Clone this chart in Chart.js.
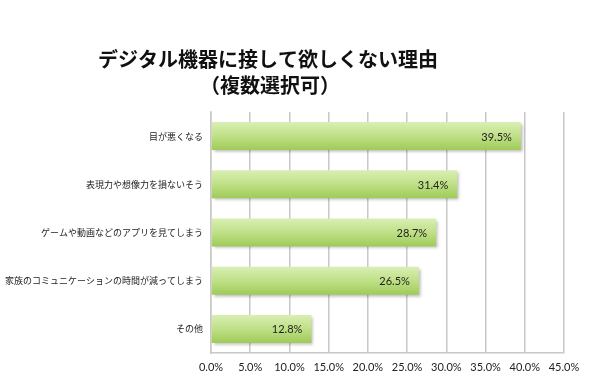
<!DOCTYPE html>
<html>
<head>
<meta charset="utf-8">
<script src="https://cdn.jsdelivr.net/npm/chart.js@4"></script>
<style>
    html, body { margin: 0; padding: 0; background: #fff; }
    #wrap { width: 593px; height: 384px; }
</style>
</head>
<body>
<div id="wrap"><canvas id="chart"></canvas></div>
<script>
const categories = [
    '目が悪くなる',
    '表現力や想像力を損ないそう',
    'ゲームや動画などのアプリを見てしまう',
    '家族のコミュニケーションの時間が減ってしまう',
    'その他'
];
const values = [39.5, 31.4, 28.7, 26.5, 12.8];
const titleLines = ['デジタル機器に接して欲しくない理由', '（複数選択可）'];
const xMax = 45;
const xStep = 5;

const CAT_PCT = 0.58;

// bar fill: vertical gradient inside each bar
function barFill (context) {
    const chart = context.chart;
    const y = chart.scales.y;
    if (!chart.chartArea || !y) return '#b8dc7c';
    const center = y.getPixelForValue(context.dataIndex);
    const half = (y.bottom - y.top) / categories.length * CAT_PCT / 2;
    const g = chart.ctx.createLinearGradient(0, center - half, 0, center + half);
    g.addColorStop(0, '#d9efb3');
    g.addColorStop(0.5, '#bfe087');
    g.addColorStop(1, '#9fcb58');
    return g;
}

const titlePlugin = {
    id: 'titleText',
    afterDraw (chart) {
        const ctx = chart.ctx;
        ctx.save();
        ctx.fillStyle = '#111';
        ctx.font = 'bold 20px "Noto Sans CJK JP"';
        ctx.textAlign = 'center';
        ctx.textBaseline = 'middle';
        ctx.fillText(titleLines[0], 268, 59);
        ctx.fillText(titleLines[1], 270, 85);
        ctx.restore();
    }
};

const shadowPlugin = {
    id: 'barShadow',
    beforeDatasetDraw (chart) {
        const ctx = chart.ctx;
        ctx.save();
        ctx.shadowColor = 'rgba(0,0,0,0.28)';
        ctx.shadowBlur = 3;
        ctx.shadowOffsetX = 2;
        ctx.shadowOffsetY = 2;
    },
    afterDatasetDraw (chart) {
        chart.ctx.restore();
    }
};

const valueLabels = {
    id: 'valueLabels',
    afterDatasetsDraw (chart) {
        const ctx = chart.ctx;
        const meta = chart.getDatasetMeta(0);
        ctx.save();
        ctx.fillStyle = '#222';
        ctx.font = '11px Lato';
        ctx.textAlign = 'right';
        ctx.textBaseline = 'middle';
        meta.data.forEach((bar, i) => {
            ctx.fillText(values[i].toFixed(1) + '%', bar.x - 9, bar.y + 1);
        });
        ctx.restore();
    }
};

new Chart(document.getElementById('chart'), {
    type: 'bar',
    data: {
        labels: categories,
        datasets: [{
            data: values,
            backgroundColor: barFill,
            borderWidth: 0,
            categoryPercentage: CAT_PCT,
            barPercentage: 1
        }]
    },
    options: {
        indexAxis: 'y',
        responsive: true,
        maintainAspectRatio: false,
        animation: false,
        layout: { padding: { top: 112, right: 29, left: 0, bottom: 0 } },
        plugins: {
            legend: { display: false },
            title: { display: false },
            tooltip: { enabled: false }
        },
        scales: {
            x: {
                min: 0,
                max: xMax,
                ticks: {
                    stepSize: xStep,
                    color: '#222',
                    font: { family: 'Lato', size: 11 },
                    padding: 8,
                    callback: (v) => v.toFixed(1) + '%'
                },
                grid: { color: '#c8c8c8', lineWidth: 1.5, drawTicks: false },
                border: { color: '#c8c8c8', width: 1.5 },
                afterFit: (s) => { s.height = 31; }
            },
            y: {
                ticks: {
                    color: '#222',
                    font: { family: 'Noto Sans CJK JP', size: 9 },
                    padding: 8
                },
                grid: { display: false, drawTicks: false },
                border: { color: '#c8c8c8', width: 1.5 },
                afterFit: (s) => { s.width = 211; }
            }
        }
    },
    plugins: [titlePlugin, shadowPlugin, valueLabels]
});
</script>
</body>
</html>
